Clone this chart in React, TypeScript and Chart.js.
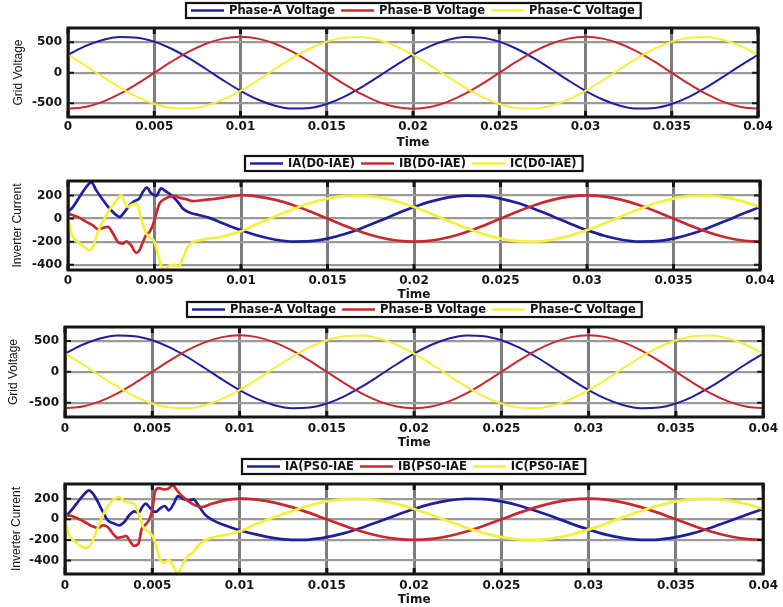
import React, { useEffect, useRef } from "react";
import { Chart, registerables } from "chart.js";
Chart.register(...registerables);

// ---------- ticks ----------
const timeTicks = [0, 0.005, 0.01, 0.015, 0.02, 0.025, 0.03, 0.035, 0.04];
const voltageTicks = [-500, 0, 500];
const currentTicks = [-400, -200, 0, 200];

// ---------- grid voltage ----------
const tVolt = [
  0, 0.001, 0.002, 0.003, 0.004, 0.005, 0.006, 0.007, 0.008, 0.009,
  0.01, 0.011, 0.012, 0.013, 0.014, 0.015, 0.016, 0.017, 0.018, 0.019,
  0.02, 0.021, 0.022, 0.023, 0.024, 0.025, 0.026, 0.027, 0.028, 0.029,
  0.03, 0.031, 0.032, 0.033, 0.034, 0.035, 0.036, 0.037, 0.038, 0.039, 0.04,
];
const vPhaseA = [
  295, 438, 539, 587, 577, 511, 395, 240, 62, -123,
  -295, -438, -539, -587, -577, -511, -395, -240, -62, 123,
  295, 438, 539, 587, 577, 511, 395, 240, 62, -123,
  -295, -438, -539, -587, -577, -511, -395, -240, -62, 123, 295,
];
const vPhaseB = [
  -590, -561, -477, -347, -182, 0, 182, 347, 477, 561,
  590, 561, 477, 347, 182, 0, -182, -347, -477, -561,
  -590, -561, -477, -347, -182, 0, 182, 347, 477, 561,
  590, 561, 477, 347, 182, 0, -182, -347, -477, -561, -590,
];
const vPhaseC = [
  295, 123, -62, -240, -395, -511, -577, -587, -539, -438,
  -295, -123, 62, 240, 395, 511, 577, 587, 539, 438,
  295, 123, -62, -240, -395, -511, -577, -587, -539, -438,
  -295, -123, 62, 240, 395, 511, 577, 587, 539, 438, 295,
];

// ---------- inverter current, steady part (0.011 .. 0.04) ----------
const tSteady = [
  0.011, 0.012, 0.013, 0.014, 0.015, 0.016, 0.017, 0.018, 0.019, 0.02,
  0.021, 0.022, 0.023, 0.024, 0.025, 0.026, 0.027, 0.028, 0.029, 0.03,
  0.031, 0.032, 0.033, 0.034, 0.035, 0.036, 0.037, 0.038, 0.039, 0.04,
];
const iASteady = [
  -149, -183, -199, -196, -173, -134, -81, -21, 42, 100,
  149, 183, 199, 196, 173, 134, 81, 21, -42, -100,
  -149, -183, -199, -196, -173, -134, -81, -21, 42, 100,
];
const iBSteady = [
  190, 162, 118, 62, 0, -62, -118, -162, -190, -200,
  -190, -162, -118, -62, 0, 62, 118, 162, 190, 200,
  190, 162, 118, 62, 0, -62, -118, -162, -190, -200,
];
const iCSteady = [
  -42, 21, 81, 134, 173, 196, 199, 183, 149, 100,
  42, -21, -81, -134, -173, -196, -199, -183, -149, -100,
  -42, 21, 81, 134, 173, 196, 199, 183, 149, 100,
];

// ---------- D0-IAE transient (0 .. 0.01) ----------
const iaD0Time = [0, 0.00029, 0.00067, 0.00106, 0.00135, 0.00163, 0.00202, 0.0024, 0.00269, 0.00298, 0.00327, 0.00356, 0.00385, 0.00413, 0.00433, 0.00456, 0.00481, 0.0051, 0.00538, 0.00563, 0.00596, 0.00635, 0.00663, 0.00702, 0.0076, 0.00817, 0.00875, 0.00933, 0.01];
const iaD0Val = [58, 101, 188, 275, 313, 246, 160, 87, 43, 14, 58, 116, 151, 174, 232, 267, 218, 197, 261, 238, 203, 145, 87, 52, 29, 6, -29, -64, -100];
const ibD0Time = [0, 0.00029, 0.00067, 0.00106, 0.00144, 0.00173, 0.00202, 0.00231, 0.0026, 0.00288, 0.00317, 0.00337, 0.00365, 0.00394, 0.00413, 0.00433, 0.00452, 0.00471, 0.0049, 0.0051, 0.00529, 0.00558, 0.00587, 0.00615, 0.00644, 0.00683, 0.00721, 0.00779, 0.00837, 0.00894, 0.00952, 0.01];
const ibD0Val = [43, 29, 6, -29, -58, -93, -81, -72, -130, -203, -217, -197, -232, -296, -275, -203, -139, -116, -58, 43, 130, 168, 188, 197, 180, 168, 151, 160, 168, 180, 194, 203];
const icD0Time = [0, 0.00019, 0.00048, 0.00087, 0.00125, 0.00144, 0.00173, 0.00202, 0.00231, 0.0026, 0.00288, 0.00308, 0.00327, 0.00346, 0.00371, 0.00398, 0.00423, 0.00448, 0.00471, 0.005, 0.00519, 0.00538, 0.00558, 0.00587, 0.00615, 0.0064, 0.00663, 0.00692, 0.00721, 0.0076, 0.00817, 0.00875, 0.00933, 0.01];
const icD0Val = [14, -130, -188, -238, -275, -246, -116, -29, 58, 116, 174, 203, 145, 101, 122, 130, 0, -116, -160, -203, -305, -406, -441, -406, -400, -412, -348, -246, -203, -188, -174, -160, -139, -110];

// ---------- PS0-IAE transient (0 .. 0.01) ----------
const iaPSTime = [0, 0.00028, 0.00066, 0.00104, 0.00138, 0.0016, 0.00189, 0.00217, 0.00245, 0.00283, 0.00311, 0.0034, 0.00368, 0.00396, 0.00421, 0.00443, 0.00462, 0.00491, 0.00519, 0.00547, 0.00572, 0.00594, 0.00623, 0.00647, 0.00674, 0.00708, 0.00736, 0.00764, 0.00802, 0.00849, 0.00915, 0.01];
const iaPSVal = [23, 71, 151, 232, 280, 248, 167, 71, -10, -42, -58, -26, 39, 77, 64, 119, 151, 103, 71, 109, 129, 87, 151, 225, 200, 184, 193, 135, 45, -10, -58, -106];
const ibPSTime = [0, 0.00038, 0.00075, 0.00113, 0.00151, 0.00189, 0.00217, 0.00245, 0.00274, 0.00302, 0.0033, 0.00349, 0.00372, 0.00396, 0.00421, 0.0044, 0.00462, 0.00485, 0.005, 0.00515, 0.00538, 0.00566, 0.00591, 0.00617, 0.00642, 0.0067, 0.00708, 0.00745, 0.00783, 0.0084, 0.00915, 0.01];
const ibPSVal = [39, 32, 6, -26, -64, -84, -58, -74, -138, -180, -171, -161, -212, -258, -235, -90, -52, 6, 87, 264, 303, 290, 296, 328, 280, 225, 174, 135, 119, 151, 184, 200];
const icPSTime = [0, 0.00019, 0.00047, 0.00085, 0.00123, 0.00151, 0.00179, 0.00208, 0.00236, 0.00264, 0.00292, 0.00311, 0.0034, 0.00368, 0.00396, 0.00425, 0.00453, 0.00481, 0.00509, 0.00528, 0.00547, 0.00572, 0.00594, 0.00623, 0.00642, 0.0066, 0.00679, 0.00708, 0.00736, 0.00764, 0.00802, 0.00858, 0.00925, 0.01];
const icPSVal = [0, -138, -203, -251, -277, -235, -122, 6, 103, 167, 206, 216, 174, 161, 151, 39, -90, -122, -187, -299, -396, -419, -396, -460, -525, -493, -419, -348, -316, -251, -203, -171, -148, -116];

// ---------- labels ----------
const voltageLabels = ["Phase-A Voltage", "Phase-B Voltage", "Phase-C Voltage"];
const d0Labels = ["IA(D0-IAE)", "IB(D0-IAE)", "IC(D0-IAE)"];
const psLabels = ["IA(PS0-IAE", "IB(PS0-IAE", "IC(PS0-IAE"];

const BLUE = "#1f1f9e";
const RED = "#c62a2f";
const YELLOW = "#f4f03a";
const COLORS = [BLUE, RED, YELLOW];

const pairs = (xs: number[], ys: number[]) => xs.map((x, i) => ({ x, y: ys[i] }));

const W = 783;

const boxLegend = {
  id: "boxLegend",
  afterDraw(chart: any) {
    const { ctx, chartArea } = chart;
    ctx.save();
    ctx.font = "bold 11.5px 'DejaVu Sans'";
    const items = chart.data.datasets.map((d: any) => ({
      text: d.label,
      color: d.borderColor,
      w: ctx.measureText(d.label).width,
    }));
    const padL = 5, lineLen = 33, gap = 5, itemGap = 6, padR = 6, h = 15;
    let total = padL + padR + itemGap * (items.length - 1);
    items.forEach((it: any) => (total += lineLen + gap + it.w));
    const cx = (chartArea.left + chartArea.right) / 2;
    const x0 = Math.round(cx - total / 2);
    const y0 = chartArea.top - 10 - h;
    ctx.fillStyle = "#fff";
    ctx.fillRect(x0, y0, total, h);
    ctx.lineWidth = 2.2;
    ctx.strokeStyle = "#111";
    ctx.strokeRect(x0, y0, total, h);
    let x = x0 + padL;
    const yc = y0 + h / 2;
    items.forEach((it: any) => {
      ctx.strokeStyle = it.color;
      ctx.lineWidth = 2.5;
      ctx.beginPath();
      ctx.moveTo(x, yc);
      ctx.lineTo(x + lineLen, yc);
      ctx.stroke();
      x += lineLen + gap;
      ctx.fillStyle = "#111";
      ctx.textBaseline = "middle";
      ctx.textAlign = "left";
      ctx.fillText(it.text, x, yc + 0.5);
      x += it.w + itemGap;
    });
    ctx.restore();
  },
};

const frame = {
  id: "frame",
  afterDatasetsDraw(chart: any) {
    const { ctx, chartArea: a, scales } = chart;
    ctx.save();
    ctx.strokeStyle = "#151515";
    ctx.lineWidth = 3;
    scales.x.ticks.forEach((t: any) => {
      const px = scales.x.getPixelForValue(t.value);
      ctx.beginPath();
      ctx.moveTo(px, a.top);
      ctx.lineTo(px, a.top + 6);
      ctx.moveTo(px, a.bottom);
      ctx.lineTo(px, a.bottom - 6);
      ctx.stroke();
    });
    ctx.lineWidth = 2;
    scales.y.ticks.forEach((t: any) => {
      const py = scales.y.getPixelForValue(t.value);
      ctx.beginPath();
      ctx.moveTo(a.left, py);
      ctx.lineTo(a.left + 6, py);
      ctx.moveTo(a.right, py);
      ctx.lineTo(a.right - 6, py);
      ctx.stroke();
    });
    ctx.lineWidth = 3;
    ctx.strokeRect(a.left, a.top, a.right - a.left, a.bottom - a.top);
    ctx.restore();
  },
};

type Panel = {
  top: number;
  height: number;
  left: number;
  right: number;
  areaTop: number;
  areaBottom: number;
  yMin: number;
  yMax: number;
  yTicks: number[];
  yTitle: string;
  yTitlePad: number;
  xLabelPad: number;
  xTitlePad: number;
  labels: string[];
  series: { x: number; y: number }[][];
  lineWidth: number;
};

const panels: Panel[] = [
  {
    top: 0, height: 150, left: 68, right: 758, areaTop: 28, areaBottom: 117,
    yMin: -725, yMax: 735, yTicks: voltageTicks, yTitle: "Grid Voltage", yTitlePad: 11.5,
    xLabelPad: 3, xTitlePad: 0.3, labels: voltageLabels,
    series: [pairs(tVolt, vPhaseA), pairs(tVolt, vPhaseB), pairs(tVolt, vPhaseC)],
    lineWidth: 2,
  },
  {
    top: 150, height: 155, left: 68, right: 760, areaTop: 31, areaBottom: 120,
    yMin: -445, yMax: 325, yTicks: currentTicks, yTitle: "Inverter Current", yTitlePad: 10.7,
    xLabelPad: 4, xTitlePad: 2.8, labels: d0Labels,
    series: [
      pairs(iaD0Time.concat(tSteady), iaD0Val.concat(iASteady)),
      pairs(ibD0Time.concat(tSteady), ibD0Val.concat(iBSteady)),
      pairs(icD0Time.concat(tSteady), icD0Val.concat(iCSteady)),
    ],
    lineWidth: 2.7,
  },
  {
    top: 295, height: 155, left: 65, right: 768, areaTop: 32, areaBottom: 122,
    yMin: -730, yMax: 725, yTicks: voltageTicks, yTitle: "Grid Voltage", yTitlePad: 6.3,
    xLabelPad: 5, xTitlePad: 0, labels: voltageLabels,
    series: [pairs(tVolt, vPhaseA), pairs(tVolt, vPhaseB), pairs(tVolt, vPhaseC)],
    lineWidth: 2,
  },
  {
    top: 452, height: 155, left: 65, right: 767, areaTop: 32, areaBottom: 122,
    yMin: -530, yMax: 342, yTicks: currentTicks, yTitle: "Inverter Current", yTitlePad: 9.5,
    xLabelPad: 5, xTitlePad: 0.3, labels: psLabels,
    series: [
      pairs(iaPSTime.concat(tSteady), iaPSVal.concat(iASteady)),
      pairs(ibPSTime.concat(tSteady), ibPSVal.concat(iBSteady)),
      pairs(icPSTime.concat(tSteady), icPSVal.concat(iCSteady)),
    ],
    lineWidth: 2.7,
  },
];

function PanelChart({ p }: { p: Panel }) {
  const ref = useRef<HTMLCanvasElement | null>(null);
  useEffect(() => {
    if (!ref.current) return;
    const tickFont = { family: "'DejaVu Sans'", size: 12, weight: "bold" as const };
    const chart = new Chart(ref.current, {
      type: "line",
      data: {
        datasets: p.series.map((data, i) => ({
          label: p.labels[i],
          data,
          borderColor: COLORS[i],
          backgroundColor: COLORS[i],
          borderWidth: p.lineWidth,
          pointRadius: 0,
          fill: false,
          cubicInterpolationMode: "monotone" as const,
          order: 3 - i,
        })),
      },
      options: {
        responsive: false,
        animation: false,
        events: [],
        layout: { padding: { left: 0, top: p.areaTop, right: W - p.right, bottom: 0 } },
        plugins: { legend: { display: false }, tooltip: { enabled: false } },
        scales: {
          x: {
            type: "linear",
            min: 0,
            max: 0.04,
            afterBuildTicks: (s: any) => {
              s.ticks = timeTicks.map((v) => ({ value: v }));
            },
            afterFit: (s: any) => {
              s.height = p.height - p.areaBottom;
            },
            ticks: {
              font: tickFont,
              color: "#151515",
              padding: p.xLabelPad,
              maxRotation: 0,
              autoSkip: false,
              callback: (v: any) => String(v),
            },
            grid: { color: "#7c7c7c", lineWidth: 3, drawTicks: false },
            border: { display: false },
            title: {
              display: true,
              text: "Time",
              color: "#151515",
              font: { family: "'DejaVu Sans'", size: 12, weight: "bold" },
              padding: { top: 0, bottom: p.xTitlePad },
            },
          },
          y: {
            type: "linear",
            min: p.yMin,
            max: p.yMax,
            afterBuildTicks: (s: any) => {
              s.ticks = p.yTicks.map((v) => ({ value: v }));
            },
            afterFit: (s: any) => {
              s.width = p.left;
            },
            ticks: {
              font: tickFont,
              color: "#151515",
              padding: 6,
              callback: (v: any) => String(v),
            },
            grid: { color: "#9a9a9a", lineWidth: 2.2, drawTicks: false },
            border: { display: false },
            title: {
              display: true,
              text: p.yTitle,
              color: "#111",
              font: { family: "'Liberation Sans'", size: 12, weight: "normal" },
              padding: { top: p.yTitlePad, bottom: 0 },
            },
          },
        },
      },
      plugins: [frame, boxLegend],
    });
    return () => chart.destroy();
  }, [p]);
  return (
    <canvas
      ref={ref}
      width={W}
      height={p.height}
      style={{ position: "absolute", left: 0, top: p.top, width: W, height: p.height, display: "block" }}
    />
  );
}

export default function App() {
  return (
    <div style={{ position: "absolute", left: 0, top: 0, width: W, height: 607, background: "#fff", overflow: "hidden" }}>
      {panels.map((p, i) => (
        <PanelChart key={i} p={p} />
      ))}
    </div>
  );
}
